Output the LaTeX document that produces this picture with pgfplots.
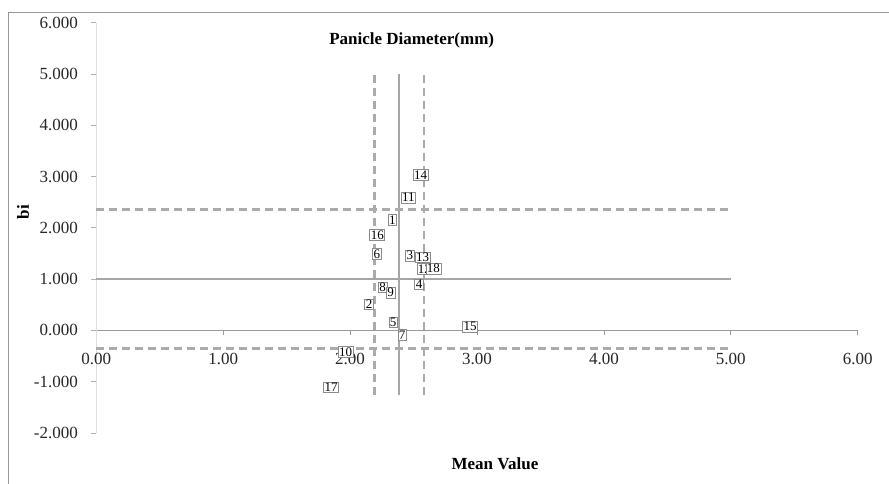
\documentclass[border=0pt]{standalone}
\usepackage{pgfplots}
\pgfplotsset{compat=1.18}
\usepackage{pgfplotstable}
\usepackage{fontspec}
\setmainfont{Liberation Serif}
\pgfplotstableread{
x y lab
2.333 2.154 1
2.149 0.510 2
2.472 1.458 3
2.543 0.900 4
2.340 0.160 5
2.210 1.490 6
2.410 -0.090 7
2.257 0.842 8
2.320 0.737 9
1.965 -0.420 10
2.459 2.590 11
2.585 1.200 12
2.572 1.427 13
2.556 3.030 14
2.945 0.074 15
2.214 1.862 16
1.851 -1.110 17
2.656 1.204 18
}\pts
\definecolor{refc}{HTML}{A6A6A6}
\definecolor{dashc}{HTML}{ABABAB}
\begin{document}
\begin{tikzpicture}
\path[use as bounding box] (0,0) rectangle (889pt,484pt);
\draw[line width=1.5pt, color=gray!80] (8.3pt,0) -- (8.3pt,471.7pt) -- (889pt,471.7pt);
\begin{axis}[
  at={(96.3pt,51pt)}, anchor=south west,
  scale only axis, width=761.4pt, height=410.3pt,
  xmin=0, xmax=6, ymin=-2, ymax=6,
  enlargelimits=false, clip=false,
  axis x line=middle, axis y line=left,
  hide obscured x ticks=false, hide obscured y ticks=false,
  x axis line style={-, color=gray!80, line width=1pt},
  y axis line style={-, color=gray!25, line width=1pt},
  xtick={0,1,2,3,4,5,6}, ytick={-2,-1,0,1,2,3,4,5,6},
  x tick style={color=gray!80, line width=0.8pt},
  y tick style={color=gray!60, line width=0.8pt},
  xtick align=outside, ytick align=outside,
  major tick length=5pt,
  /pgf/number format/assume math mode=true,
  xticklabel={\pgfmathprintnumber[fixed,fixed zerofill,precision=2]{\tick}},
  yticklabel={\pgfmathprintnumber[fixed,fixed zerofill,precision=3]{\tick}},
  ticklabel style={font=\fontsize{17}{19}\selectfont, text=black!85},
  xticklabel style={yshift=-14pt},
  yticklabel style={xshift=-10pt},
]
\addplot[refc, line width=2pt] coordinates {(0,1) (5,1)};
\addplot[refc, line width=2pt] coordinates {(2.388,-1.26) (2.388,5)};
\addplot[dashc, line width=2.6pt, dash pattern=on 8pt off 5pt] coordinates {(0,2.363) (5,2.363)};
\addplot[dashc, line width=2.6pt, dash pattern=on 8pt off 5pt] coordinates {(0,-0.355) (5,-0.355)};
\addplot[dashc, line width=2.6pt, dash pattern=on 8pt off 5pt] coordinates {(2.19,-1.26) (2.19,5)};
\addplot[dashc, line width=2.6pt, dash pattern=on 8pt off 5pt] coordinates {(2.583,-1.26) (2.583,5)};
\addplot[only marks, mark=none,
  nodes near coords, point meta=explicit symbolic,
  nodes near coords style={anchor=center, draw=gray!90, fill=white, line width=0.6pt,
    inner sep=1pt, font=\fontsize{13}{13}\selectfont, text=black}]
  table[x=x, y=y, meta=lab] {\pts};
\end{axis}
\node[font=\bfseries\fontsize{17}{19}\selectfont] at (411.7pt,444pt) {Panicle Diameter(mm)};
\node[font=\bfseries\fontsize{17}{19}\selectfont, rotate=90] at (23pt,272pt) {bi};
\node[font=\bfseries\fontsize{17}{19}\selectfont] at (495pt,20pt) {Mean Value};
\end{tikzpicture}
\end{document}
